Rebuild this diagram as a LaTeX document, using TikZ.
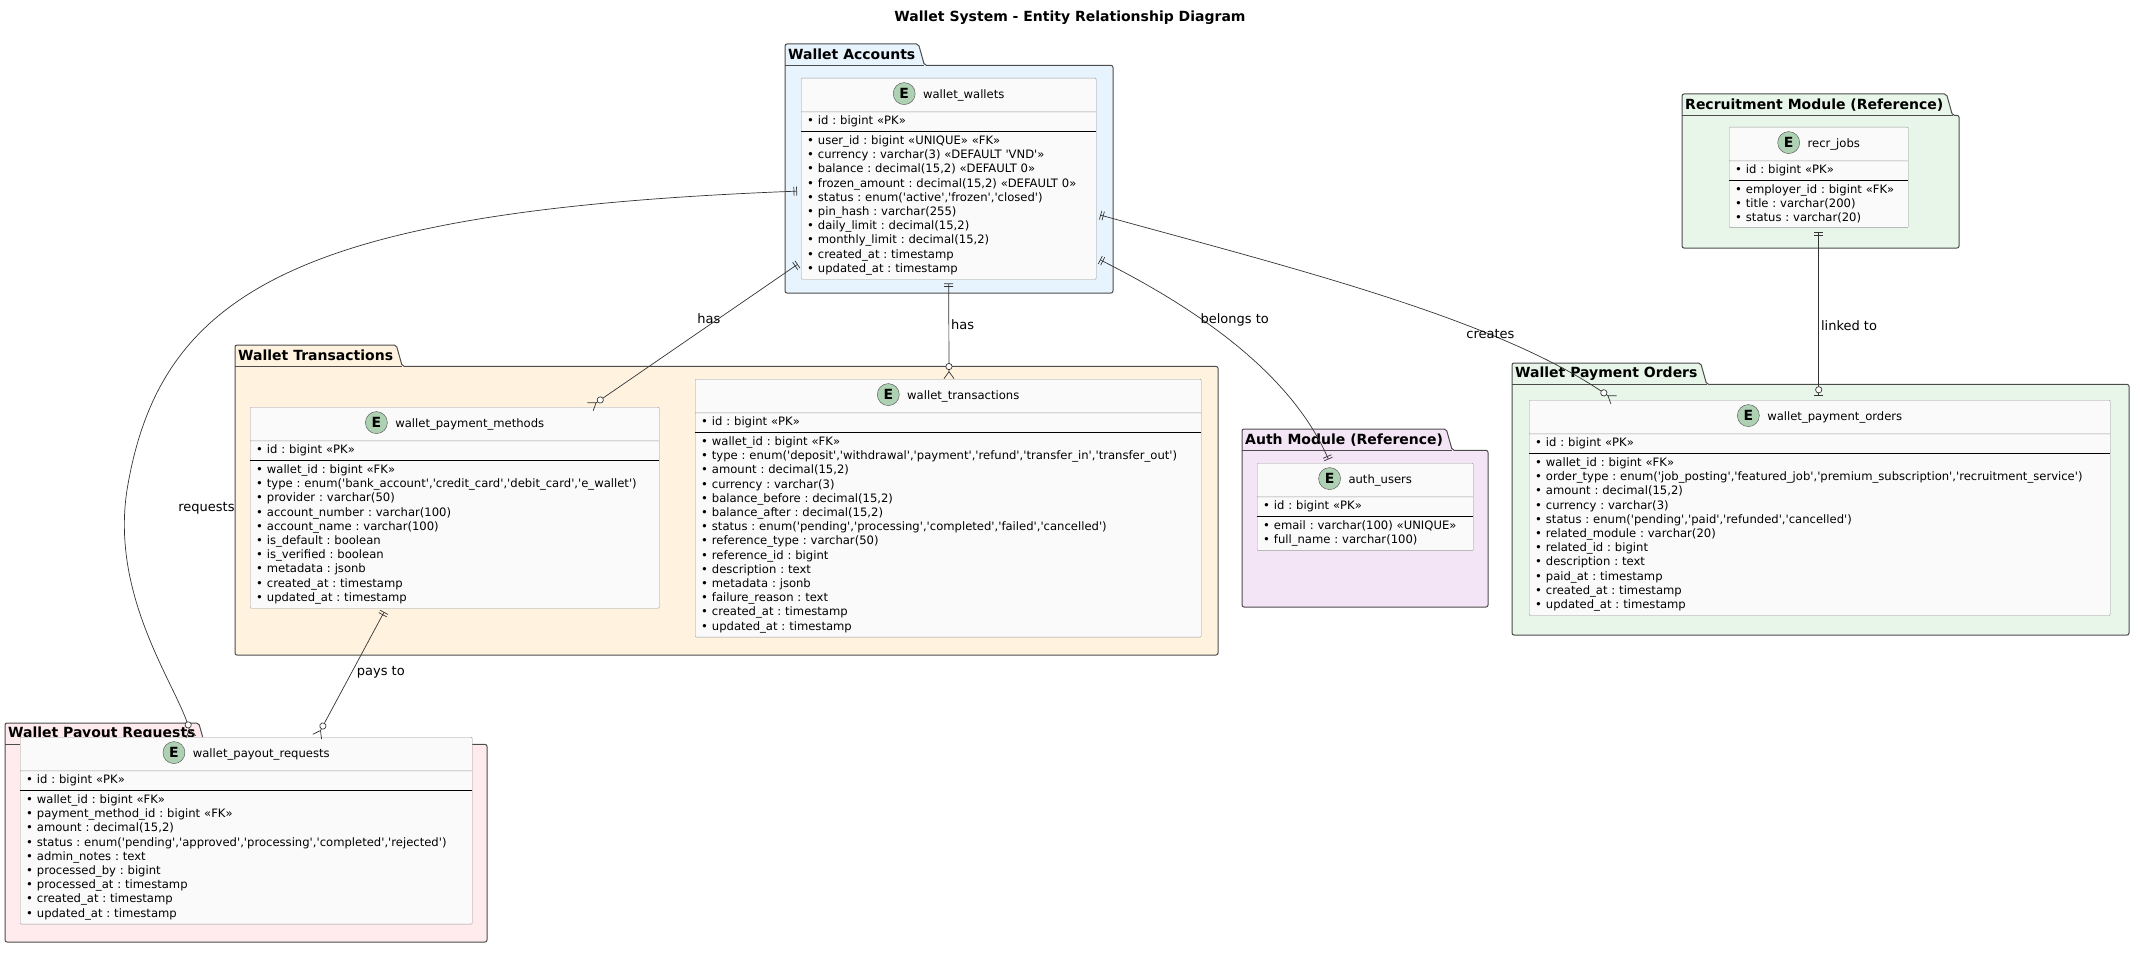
\documentclass[tikz,border=0pt]{standalone}
\usepackage{fontspec}
\setmainfont{DejaVu Sans}[Ligatures=TeXOff]
\usetikzlibrary{arrows.meta,shapes.multipart,backgrounds}
\definecolor{accfill}{HTML}{E8F4FD}
\definecolor{trnfill}{HTML}{FFF3E0}
\definecolor{payfill}{HTML}{FFEBEE}
\definecolor{autfill}{HTML}{F3E5F5}
\definecolor{grnfill}{HTML}{E8F5E9}
\definecolor{spot}{HTML}{ADD1B2}
\frenchspacing
\tikzset{
  one/.tip={Bar[width=9pt,sep=2pt] Bar[width=9pt,sep=4pt]},
  zeromany/.tip={Circle[open,fill=white,length=7pt,sep=1pt] Straight Barb[reversed,length=7pt,width=10pt]},
  zeroone/.tip={Circle[open,fill=white,length=7pt,sep=2pt] Bar[width=9pt,sep=4pt]},
  ent/.style={rectangle split, rectangle split parts=3, draw=gray!80, fill=black!2,
    rounded corners=1pt, align=left, inner xsep=6pt, inner ysep=4pt,
    font=\fontsize{11.6}{14.2}\selectfont},
  sepline/.style={draw=black, line width=0.8pt},
  pkgbox/.style={draw=black!70, line width=1pt, rounded corners=2pt},
  pkglbl/.style={font=\fontsize{14}{16}\bfseries, inner xsep=3pt, inner ysep=0pt, minimum height=21pt, anchor=north west},
  rel/.style={draw=black!80, line width=0.7pt},
  lbl/.style={font=\fontsize{13}{15}\selectfont, inner sep=2pt},
}
\newcommand{\spotE}{\tikz[baseline=(spotnode.base)]\node[circle,draw=black!70,fill=spot,inner sep=0pt,minimum size=22pt,font=\fontsize{14}{14}\bfseries] (spotnode) {E};}
\newcommand{\fld}{\textbullet\ }
% entity: name, position, width, title, pk, attributes
\newcommand{\ent}[6]{%
  \node[ent, text width=#3pt-12pt, anchor=north west] (#1) at (#2) {\centering\rule[-9pt]{0pt}{24pt}\spotE\ \ #4\par \nodepart{two} #5 \nodepart{three} #6};
  \draw[sepline] (#1.two split west) -- (#1.two split east);}
% package: x1, y1, x2, y2, label, fill, name
\newcommand{\pkg}[7]{%
  \node[pkglbl] (#7) at (#1,#2) {#5};
  \coordinate (#7-br) at (#3,#4);
  \begin{pgfonlayer}{background}
  \draw[pkgbox, fill=#6] (#7.south west) -- (#7.north west) -- (#7.north east) -- ([xshift=6pt]#7.south east)
    -- (#7.south west -| #7-br) -- (#7-br) -- (#7.south west |- #7-br) -- cycle;
  \draw[draw=black!70, line width=1pt] (#7.south west) -- ([xshift=6pt]#7.south east);
  \end{pgfonlayer}}
\begin{document}
\begin{tikzpicture}[x=1pt,y=-1pt]
\useasboundingbox (0,0) rectangle (2140,955);
\node[font=\fontsize{14}{16}\bfseries] (title) at (1070,18) {Wallet System - Entity Relationship Diagram};

% packages
\pkg{785}{44}{1113}{293}{Wallet Accounts}{accfill}{acc}
\pkg{1682}{94}{1959}{248}{Recruitment Module (Reference)}{grnfill}{rec}
\pkg{235}{345}{1218}{655}{Wallet Transactions}{trnfill}{trn}
\pkg{1242}{429}{1488}{607}{Auth Module (Reference)}{autfill}{aut}
\pkg{1512}{363}{2129}{635}{Wallet Payment Orders}{grnfill}{ord}
\pkg{5}{723}{487}{942}{Wallet Payout Requests}{payfill}{pay}

% entities
\ent{ww}{801,78}{295}{wallet\_wallets}{\fld id : bigint «PK»}{%
\fld user\_id : bigint «UNIQUE» «FK»\\
\fld currency : varchar(3) «DEFAULT 'VND'»\\
\fld balance : decimal(15,2) «DEFAULT 0»\\
\fld frozen\_amount : decimal(15,2) «DEFAULT 0»\\
\fld status : enum('active','frozen','closed')\\
\fld pin\_hash : varchar(255)\\
\fld daily\_limit : decimal(15,2)\\
\fld monthly\_limit : decimal(15,2)\\
\fld created\_at : timestamp\\
\fld updated\_at : timestamp}
\ent{rj}{1729,127}{179}{recr\_jobs}{\fld id : bigint «PK»}{%
\fld employer\_id : bigint «FK»\\
\fld title : varchar(200)\\
\fld status : varchar(20)}
\ent{wpm}{250,407}{409}{wallet\_payment\_methods}{\fld id : bigint «PK»}{%
\fld wallet\_id : bigint «FK»\\
\fld type : enum('bank\_account','credit\_card','debit\_card','e\_wallet')\\
\fld provider : varchar(50)\\
\fld account\_number : varchar(100)\\
\fld account\_name : varchar(100)\\
\fld is\_default : boolean\\
\fld is\_verified : boolean\\
\fld metadata : jsonb\\
\fld created\_at : timestamp\\
\fld updated\_at : timestamp}
\ent{wt}{695,379}{506}{wallet\_transactions}{\fld id : bigint «PK»}{%
\fld wallet\_id : bigint «FK»\\
\fld type : enum('deposit','withdrawal','payment','refund','transfer\_in','transfer\_out')\\
\fld amount : decimal(15,2)\\
\fld currency : varchar(3)\\
\fld balance\_before : decimal(15,2)\\
\fld balance\_after : decimal(15,2)\\
\fld status : enum('pending','processing','completed','failed','cancelled')\\
\fld reference\_type : varchar(50)\\
\fld reference\_id : bigint\\
\fld description : text\\
\fld metadata : jsonb\\
\fld failure\_reason : text\\
\fld created\_at : timestamp\\
\fld updated\_at : timestamp}
\ent{au}{1257,463}{216}{auth\_users}{\fld id : bigint «PK»}{%
\fld email : varchar(100) «UNIQUE»\\
\fld full\_name : varchar(100)}
\ent{wpo}{1529,400}{581}{wallet\_payment\_orders}{\fld id : bigint «PK»}{%
\fld wallet\_id : bigint «FK»\\
\fld order\_type : enum('job\_posting','featured\_job','premium\_subscription','recruitment\_service')\\
\fld amount : decimal(15,2)\\
\fld currency : varchar(3)\\
\fld status : enum('pending','paid','refunded','cancelled')\\
\fld related\_module : varchar(20)\\
\fld related\_id : bigint\\
\fld description : text\\
\fld paid\_at : timestamp\\
\fld created\_at : timestamp\\
\fld updated\_at : timestamp}
\ent{wpr}{20,737}{452}{wallet\_payout\_requests}{\fld id : bigint «PK»}{%
\fld wallet\_id : bigint «FK»\\
\fld payment\_method\_id : bigint «FK»\\
\fld amount : decimal(15,2)\\
\fld status : enum('pending','approved','processing','completed','rejected')\\
\fld admin\_notes : text\\
\fld processed\_by : bigint\\
\fld processed\_at : timestamp\\
\fld created\_at : timestamp\\
\fld updated\_at : timestamp}

% relations
\draw[rel, one-zeromany] ([yshift=-113pt]ww.north west) .. controls (300,210) and (160,290) .. (127,490)
  node[lbl, anchor=west, xshift=49pt, yshift=-18pt] {requests} .. controls (110,600) and (180,690) .. ([xshift=171pt]wpr.north west);
\draw[rel, one-zeromany] ([yshift=-184pt]ww.north west) -- node[lbl, pos=0.39, left=-4pt] {has} ([xshift=340pt]wpm.north west);
\draw[rel, one-zeromany] (ww.south) -- node[lbl, pos=0.45, right] {has} ([xshift=254pt]wt.north west);
\draw[rel, one-one] ([yshift=-180pt]ww.north east) .. controls (1190,305) and (1290,370) .. node[lbl, pos=0.38, anchor=west, xshift=-4pt] {belongs to} ([xshift=73pt]au.north west);
\draw[rel, one-zeromany] ([yshift=-136pt]ww.north east) .. controls (1300,270) and (1500,320) .. node[lbl, pos=0.7, above=-6pt] {creates} ([xshift=85pt]wpo.north west);
\draw[rel, one-zeroone] (rj.south) -- node[lbl, pos=0.57, right=0pt] {linked to} (rj.south |- wpo.north);
\draw[rel, one-zeromany] ([xshift=136pt]wpm.south west) -- node[lbl, pos=0.5, right=3pt] {pays to} ([xshift=297pt]wpr.north west);
\end{tikzpicture}
\end{document}
